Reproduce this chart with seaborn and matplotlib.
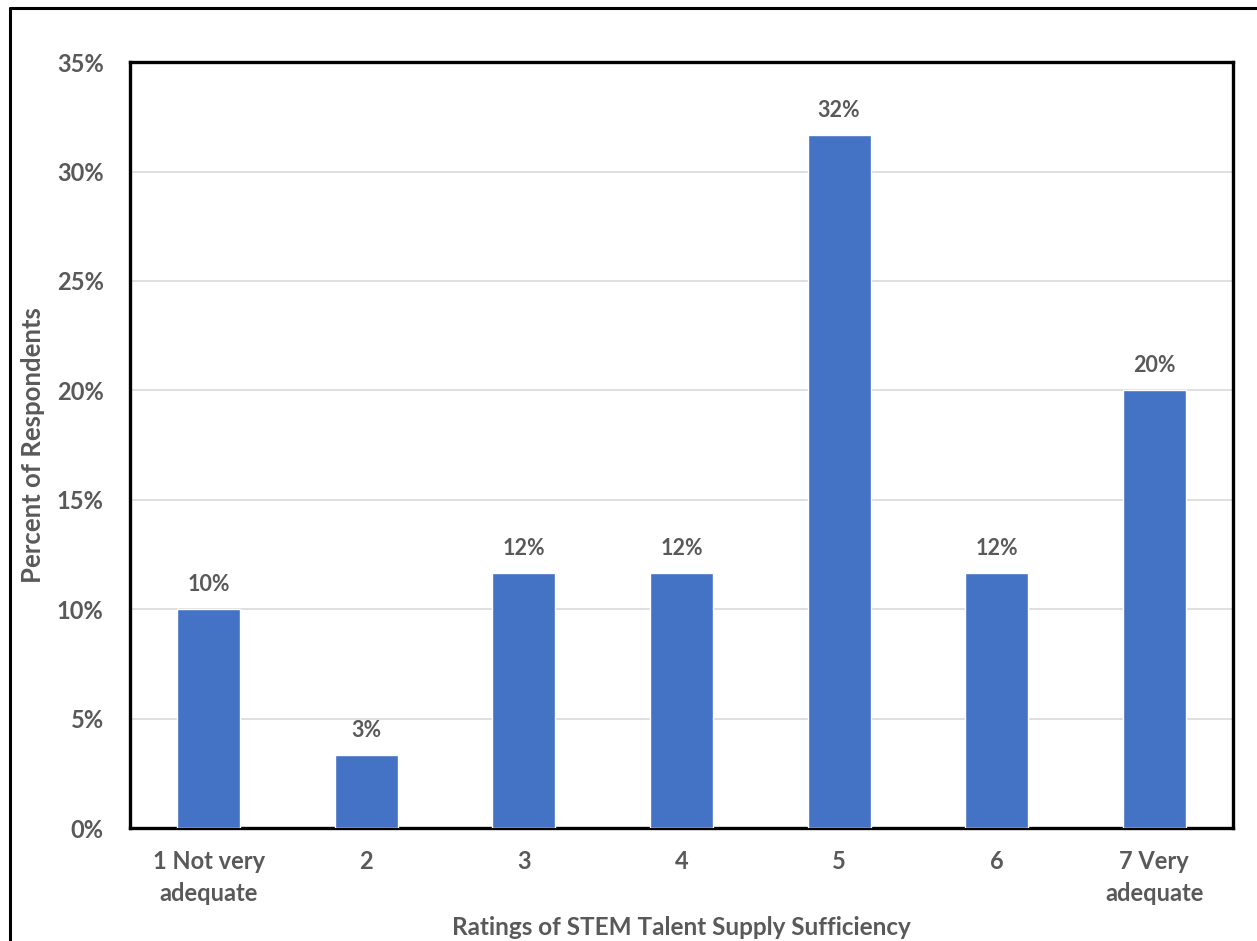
import matplotlib
matplotlib.use("Agg")
import matplotlib.pyplot as plt
from matplotlib.lines import Line2D
import seaborn as sns
import pandas as pd

categories = ["1 Not very\nadequate", "2", "3", "4", "5", "6", "7 Very\nadequate"]
percent = [10.0, 3.33, 11.67, 11.67, 31.67, 11.67, 20.0]
y_ticks = [0, 5, 10, 15, 20, 25, 30, 35]

df = pd.DataFrame({"rating": categories, "percent": percent})

sns.set_theme(style="white")
plt.rcParams["font.family"] = ["Lato", "DejaVu Sans"]

text_color = "#595959"
bar_color = "#4472C4"

fig = plt.figure(figsize=(12.57, 9.41), dpi=100)
ax = fig.add_axes([0.1034, 0.120, 0.8776, 0.814])

sns.barplot(data=df, x="rating", y="percent", color=bar_color, width=0.4,
            saturation=1, ax=ax, zorder=3)

ax.set_ylim(0, 35)
ax.set_xlim(-0.5, len(categories) - 0.5)
ax.set_yticks(y_ticks)
ax.set_yticklabels([f"{t}%" for t in y_ticks])
ax.yaxis.grid(True, color="#D9D9D9", linewidth=1.2, zorder=0)
ax.set_axisbelow(True)
ax.tick_params(axis="both", length=0, labelsize=17, colors=text_color)
ax.tick_params(axis="y", pad=19)
ax.tick_params(axis="x", pad=16)
for lab in ax.get_xticklabels() + ax.get_yticklabels():
    lab.set_fontweight("bold")
for lab in ax.get_xticklabels():
    lab.set_linespacing(1.45)

for spine in ax.spines.values():
    spine.set_visible(True)
    spine.set_color("black")
    spine.set_linewidth(2.4)

for i, v in enumerate(percent):
    ax.annotate(f"{v:.0f}%", (i, v), xytext=(0, 10), textcoords="offset points",
                ha="center", va="bottom", fontsize=15.5, fontweight="bold",
                color=text_color)

ax.set_xlabel("Ratings of STEM Talent Supply Sufficiency", fontsize=17.5,
              fontweight="bold", color=text_color, va="center")
ax.set_ylabel("Percent of Respondents", fontsize=18.5, fontweight="bold",
              color=text_color, va="center")
ax.xaxis.set_label_coords(0.5, -0.1295)
ax.yaxis.set_label_coords(-0.0875, 0.5)

# outer frame around the chart area
fig.add_artist(Line2D([0.0076, 1.0], [0.9915, 0.9915], color="black",
                      linewidth=2.2, transform=fig.transFigure))
fig.add_artist(Line2D([0.0076, 0.0076], [0.0, 0.9915], color="black",
                      linewidth=2.2, transform=fig.transFigure))

fig.savefig("out.png", dpi=100, facecolor="white")
